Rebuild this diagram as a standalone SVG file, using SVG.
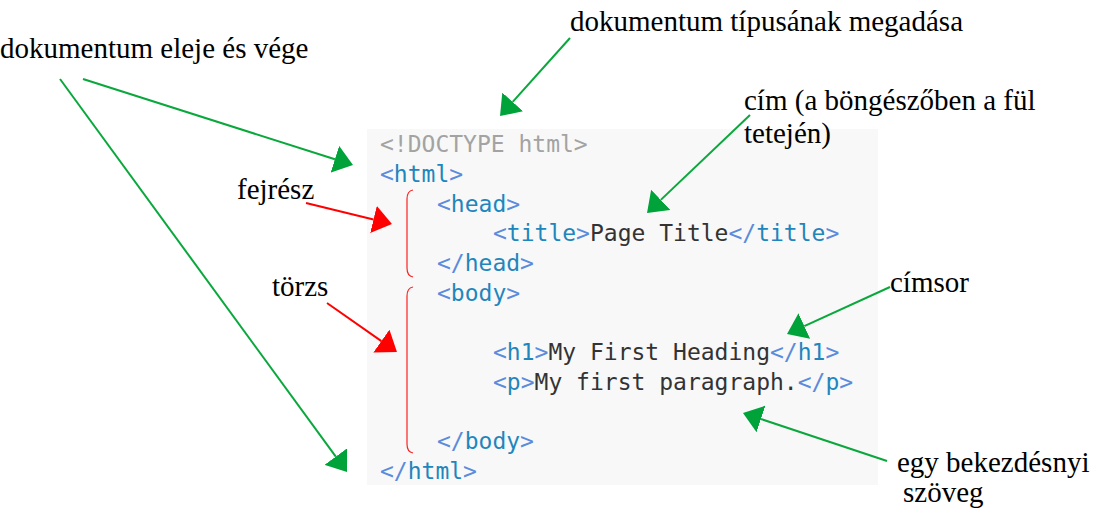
<svg xmlns="http://www.w3.org/2000/svg" width="1096" height="512" viewBox="0 0 1096 512">
<style>
.lbl{font-family:"Liberation Serif","Times New Roman",serif;font-size:29px;fill:#000}
.code{font-family:"DejaVu Sans Mono","Liberation Mono",monospace;font-size:23px;fill:#333}
.dt{fill:#a3a3a3}
.p{fill:#5a8bdc}
.n{fill:#1f86bd}
.g{stroke:#0aa83c;stroke-width:2;fill:none;marker-end:url(#ag)}
.r{stroke:#ff0000;stroke-width:2;fill:none;marker-end:url(#ar)}
.br{stroke:#ff2020;stroke-width:1.2;fill:none}
</style>
<defs>
<marker id="ag" markerUnits="userSpaceOnUse" viewBox="0 0 19 28" refX="0" refY="14" markerWidth="19" markerHeight="28" orient="auto"><path d="M0,0 L19,14 L0,28 Z" fill="#00a33a"/></marker>
<marker id="ar" markerUnits="userSpaceOnUse" viewBox="0 0 19 28" refX="0" refY="14" markerWidth="19" markerHeight="28" orient="auto"><path d="M0,0 L19,14 L0,28 Z" fill="#ff0000"/></marker>
</defs>
<rect width="1096" height="512" fill="#ffffff"/>
<g id="code">
<rect x="367" y="129" width="511" height="356" fill="#f8f8f8"/>
<text class="code dt" x="380" y="152">&lt;!DOCTYPE html&gt;</text>
<text class="code" x="380" y="182"><tspan class="p">&lt;</tspan><tspan class="n">html</tspan><tspan class="p">&gt;</tspan></text>
<text class="code" x="437" y="211.5"><tspan class="p">&lt;</tspan><tspan class="n">head</tspan><tspan class="p">&gt;</tspan></text>
<text class="code" x="493" y="241"><tspan class="p">&lt;</tspan><tspan class="n">title</tspan><tspan class="p">&gt;</tspan>Page Title<tspan class="p">&lt;/</tspan><tspan class="n">title</tspan><tspan class="p">&gt;</tspan></text>
<text class="code" x="437" y="271"><tspan class="p">&lt;/</tspan><tspan class="n">head</tspan><tspan class="p">&gt;</tspan></text>
<text class="code" x="437" y="300.5"><tspan class="p">&lt;</tspan><tspan class="n">body</tspan><tspan class="p">&gt;</tspan></text>
<text class="code" x="493" y="360"><tspan class="p">&lt;</tspan><tspan class="n">h1</tspan><tspan class="p">&gt;</tspan>My First Heading<tspan class="p">&lt;/</tspan><tspan class="n">h1</tspan><tspan class="p">&gt;</tspan></text>
<text class="code" x="493" y="390"><tspan class="p">&lt;</tspan><tspan class="n">p</tspan><tspan class="p">&gt;</tspan>My first paragraph.<tspan class="p">&lt;/</tspan><tspan class="n">p</tspan><tspan class="p">&gt;</tspan></text>
<text class="code" x="437" y="449"><tspan class="p">&lt;/</tspan><tspan class="n">body</tspan><tspan class="p">&gt;</tspan></text>
<text class="code" x="380" y="479"><tspan class="p">&lt;/</tspan><tspan class="n">html</tspan><tspan class="p">&gt;</tspan></text>
</g>
<g id="brackets">
<path class="br" d="M413,190 Q407,191 407,199 L407,268 Q407,276 413,277"/>
<path class="br" d="M413,287 Q407,288 407,296 L407,444 Q407,452 413,453"/>
</g>
<g id="label-eleje-vege"><text class="lbl" x="0" y="58">dokumentum eleje és vége</text></g>
<g id="label-tipus"><text class="lbl" x="570" y="31">dokumentum típusának megadása</text></g>
<g id="label-cim"><text class="lbl" x="744" y="110">cím (a böngészőben a fül</text><text class="lbl" x="744" y="143">tetején)</text></g>
<g id="label-fejresz"><text class="lbl" x="237" y="199">fejrész</text></g>
<g id="label-torzs"><text class="lbl" x="272" y="296">törzs</text></g>
<g id="label-cimsor"><text class="lbl" x="890" y="292">címsor</text></g>
<g id="label-bekezdes"><text class="lbl" x="897" y="472">egy bekezdésnyi</text><text class="lbl" x="903" y="502">szöveg</text></g>
<g id="connectors">
<line class="g" x1="83" y1="79" x2="334.9" y2="159.2"/>
<line class="g" x1="60" y1="79" x2="335.8" y2="456.6"/>
<line class="g" x1="570" y1="38" x2="512.7" y2="101.9"/>
<line class="g" x1="750" y1="115" x2="660.8" y2="199.9"/>
<line class="g" x1="890" y1="287" x2="804.3" y2="326.1"/>
<line class="g" x1="887" y1="461" x2="761" y2="419"/>
<line class="r" x1="306" y1="203" x2="373.5" y2="219.5"/>
<line class="r" x1="327" y1="303" x2="381.4" y2="341.1"/>
</g>
</svg>
